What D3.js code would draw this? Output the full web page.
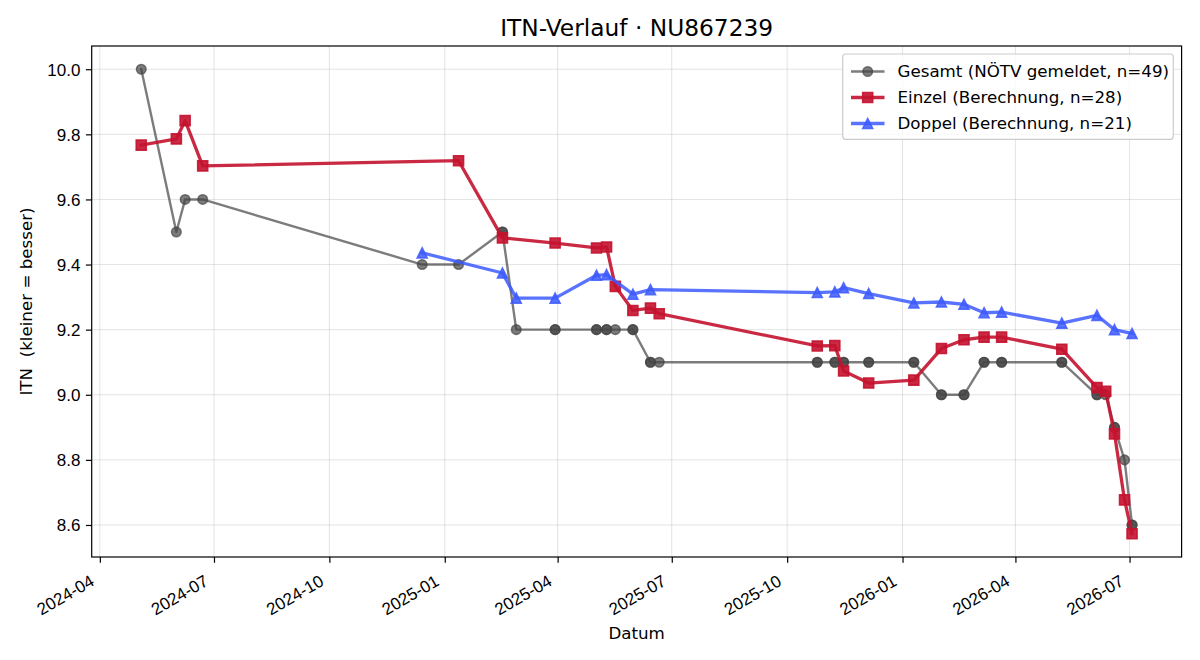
<!DOCTYPE html>
<html>
<head>
<meta charset="utf-8">
<script src="https://cdn.jsdelivr.net/npm/d3@7"></script>
<style>
  html, body { margin: 0; padding: 0; background: #fff; }
  svg { display: block; font-family: "DejaVu Sans", sans-serif; }
</style>
</head>
<body>
<svg id="chart" width="1200" height="660"></svg>
<script>
// ---- Data ----
const titleText = "ITN-Verlauf · NU867239";
const xLabelText = "Datum";
const yLabelText = "ITN  (kleiner = besser)";

const gesamtDates = [
  "2024-05-04","2024-06-01","2024-06-08","2024-06-22","2024-12-14","2025-01-12",
  "2025-02-16","2025-02-16","2025-02-27","2025-03-30","2025-03-30",
  "2025-05-02","2025-05-02","2025-05-10","2025-05-10","2025-05-17",
  "2025-05-31","2025-05-31","2025-06-14","2025-06-14","2025-06-21",
  "2025-10-25","2025-10-25","2025-11-08","2025-11-08","2025-11-15","2025-11-15",
  "2025-12-05","2025-12-05","2026-01-10","2026-01-10","2026-02-01","2026-02-01",
  "2026-02-19","2026-02-19","2026-03-07","2026-03-07","2026-03-21","2026-03-21",
  "2026-05-08","2026-05-08","2026-06-05","2026-06-05","2026-06-12",
  "2026-06-19","2026-06-19","2026-06-27","2026-07-03","2026-07-03"
];
const gesamtValues = [
  10.0, 9.5, 9.6, 9.6, 9.4, 9.4,
  9.5, 9.5, 9.2, 9.2, 9.2,
  9.2, 9.2, 9.2, 9.2, 9.2,
  9.2, 9.2, 9.1, 9.1, 9.1,
  9.1, 9.1, 9.1, 9.1, 9.1, 9.1,
  9.1, 9.1, 9.1, 9.1, 9.0, 9.0,
  9.0, 9.0, 9.1, 9.1, 9.1, 9.1,
  9.1, 9.1, 9.0, 9.0, 9.0,
  8.9, 8.9, 8.8, 8.6, 8.6
];

const einzelDates = [
  "2024-05-04","2024-06-01","2024-06-08","2024-06-22","2025-01-12","2025-02-16",
  "2025-03-30","2025-05-02","2025-05-10","2025-05-17","2025-05-31","2025-06-14",
  "2025-06-21","2025-10-25","2025-11-08","2025-11-15","2025-12-05","2026-01-10",
  "2026-02-01","2026-02-19","2026-03-07","2026-03-21","2026-05-08","2026-06-05",
  "2026-06-12","2026-06-19","2026-06-27","2026-07-03"
];
const einzelValues = [
  9.767, 9.786, 9.842, 9.703, 9.719, 9.482,
  9.466, 9.451, 9.454, 9.333, 9.259, 9.266,
  9.249, 9.150, 9.151, 9.073, 9.036, 9.045,
  9.142, 9.169, 9.177, 9.177, 9.140, 9.022,
  9.011, 8.880, 8.677, 8.573
];

const doppelDates = [
  "2024-12-14","2025-02-16","2025-02-27","2025-03-30","2025-05-02","2025-05-10",
  "2025-05-31","2025-06-14","2025-10-25","2025-11-08","2025-11-15","2025-12-05",
  "2026-01-10","2026-02-01","2026-02-19","2026-03-07","2026-03-21","2026-05-08",
  "2026-06-05","2026-06-19","2026-07-03"
];
const doppelValues = [
  9.436, 9.374, 9.297, 9.297, 9.367, 9.369,
  9.309, 9.323, 9.314, 9.316, 9.329, 9.311,
  9.282, 9.285, 9.278, 9.252, 9.254, 9.220,
  9.244, 9.200, 9.188
];

const seriesNames = [
  "Gesamt (NÖTV gemeldet, n=49)",
  "Einzel (Berechnung, n=28)",
  "Doppel (Berechnung, n=21)"
];
const yTickValues = [8.6, 8.8, 9.0, 9.2, 9.4, 9.6, 9.8, 10.0];

// ---- Layout ----
const W = 1200, H = 660;
const M = { left: 91.7, right: 1200 - 1181.6, top: 46, bottom: 660 - 557 };
const iw = W - M.left - M.right, ih = H - M.top - M.bottom;

const parse = d3.utcParse("%Y-%m-%d");
const mk = (ds, vs) => ds.map((d, i) => ({ date: parse(d), value: vs[i] }));
const gesamt = mk(gesamtDates, gesamtValues);
const einzel = mk(einzelDates, einzelValues);
const doppel = mk(doppelDates, doppelValues);
const all = gesamt.concat(einzel, doppel);

const xExt = d3.extent(all, d => d.date);
const xPad = (xExt[1] - xExt[0]) * 0.05;
const x = d3.scaleUtc()
  .domain([new Date(+xExt[0] - xPad), new Date(+xExt[1] + xPad)])
  .range([M.left, M.left + iw]);
const yExt = d3.extent(all, d => d.value);
const yPad = (yExt[1] - yExt[0]) * 0.05;
const y = d3.scaleLinear()
  .domain([yExt[0] - yPad, yExt[1] + yPad])
  .range([M.top + ih, M.top]);

const svg = d3.select("#chart");
svg.append("rect").attr("width", W).attr("height", H).attr("fill", "#fff");

const xTicks = x.ticks(d3.utcMonth.every(3)).filter(t => t >= x.domain()[0] && t <= x.domain()[1]);

// grid
const grid = svg.append("g");
grid.selectAll(".gx").data(xTicks).join("line")
  .attr("x1", d => x(d)).attr("x2", d => x(d))
  .attr("y1", M.top).attr("y2", M.top + ih)
  .attr("stroke", "#b0b0b0").attr("stroke-opacity", 0.35).attr("stroke-width", 1);
grid.selectAll(".gy").data(yTickValues).join("line")
  .attr("x1", M.left).attr("x2", M.left + iw)
  .attr("y1", d => y(d)).attr("y2", d => y(d))
  .attr("stroke", "#b0b0b0").attr("stroke-opacity", 0.35).attr("stroke-width", 1);

// axes
const xAxis = d3.axisBottom(x).tickValues(xTicks).tickFormat(d3.utcFormat("%Y-%m"))
  .tickSize(5.8).tickPadding(6);
const gx = svg.append("g").attr("transform", `translate(0,${M.top + ih})`).call(xAxis);
gx.select(".domain").remove();
gx.selectAll(".tick line").attr("stroke", "#000").attr("stroke-width", 1.2);
gx.selectAll(".tick text")
  .attr("font-size", 17).attr("fill", "#000")
  .attr("text-anchor", "end")
  .attr("y", 0).attr("dy", 0)
  .attr("transform", "translate(-5,27.5) rotate(-30)");

const yAxis = d3.axisLeft(y).tickValues(yTickValues).tickFormat(d3.format(".1f"))
  .tickSize(5.8).tickPadding(5.5);
const gy = svg.append("g").attr("transform", `translate(${M.left},0)`).call(yAxis);
gy.select(".domain").remove();
gy.selectAll(".tick line").attr("stroke", "#000").attr("stroke-width", 1.2);
gy.selectAll(".tick text").attr("font-size", 17).attr("fill", "#000").attr("dy", "0.35em");

// frame
svg.append("rect").attr("x", M.left).attr("y", M.top).attr("width", iw).attr("height", ih)
  .attr("fill", "none").attr("stroke", "#000").attr("stroke-width", 1.2);

// series
const line = d3.line().x(d => x(d.date)).y(d => y(d.value));
const plot = svg.append("g");

const styles = [
  { data: gesamt, color: "#444444", alpha: 0.7, lw: 2.4, marker: "circle", size: 9.5 },
  { data: einzel, color: "#c4122f", alpha: 0.9, lw: 3.3, marker: "square", size: 10 },
  { data: doppel, color: "#3d5afe", alpha: 0.85, lw: 3.3, marker: "triangle", size: 10 }
];

function markerPath(type, s) {
  const h = s / 2;
  if (type === "circle") {
    return `M${h},0A${h},${h} 0 1,1 ${-h},0A${h},${h} 0 1,1 ${h},0Z`;
  } else if (type === "square") {
    return `M${-h},${-h}H${h}V${h}H${-h}Z`;
  } else {
    return `M0,${-h}L${h},${h}L${-h},${h}Z`;
  }
}

styles.forEach(s => {
  const g = plot.append("g");
  g.append("path").datum(s.data).attr("d", line)
    .attr("fill", "none").attr("stroke", s.color).attr("stroke-opacity", s.alpha)
    .attr("stroke-width", s.lw).attr("stroke-linejoin", "round").attr("stroke-linecap", "square");
  g.selectAll("path.m").data(s.data).join("path").attr("class", "m")
    .attr("transform", d => `translate(${x(d.date)},${y(d.value)})`)
    .attr("d", markerPath(s.marker, s.size))
    .attr("fill", s.color).attr("fill-opacity", s.alpha)
    .attr("stroke", s.color).attr("stroke-opacity", s.alpha).attr("stroke-width", 1.6);
});

// legend
const lg = svg.append("g");
lg.append("rect").attr("x", 842.7).attr("y", 54).attr("width", 330.6).attr("height", 85.3)
  .attr("rx", 3).attr("fill", "#fff").attr("fill-opacity", 0.8)
  .attr("stroke", "#cccccc").attr("stroke-width", 1.2);
const rowY = [71.5, 97.5, 123.5];
styles.forEach((s, i) => {
  const ry = rowY[i];
  lg.append("line").attr("x1", 851).attr("x2", 884.5).attr("y1", ry).attr("y2", ry)
    .attr("stroke", s.color).attr("stroke-opacity", s.alpha).attr("stroke-width", s.lw);
  lg.append("path").attr("transform", `translate(867.7,${ry})`)
    .attr("d", markerPath(s.marker, s.size))
    .attr("fill", s.color).attr("fill-opacity", s.alpha)
    .attr("stroke", s.color).attr("stroke-opacity", s.alpha).attr("stroke-width", 1.6);
  lg.append("text").attr("x", 897.5).attr("y", ry).attr("dy", "0.35em")
    .attr("font-size", 16.7).attr("fill", "#000").text(seriesNames[i]);
});

// title & labels
svg.append("text").attr("x", M.left + iw / 2).attr("y", 36)
  .attr("text-anchor", "middle").attr("font-size", 23.3).attr("fill", "#000").text(titleText);
svg.append("text").attr("x", M.left + iw / 2).attr("y", 639)
  .attr("text-anchor", "middle").attr("font-size", 16.7).attr("fill", "#000").text(xLabelText);
svg.append("text")
  .attr("transform", `translate(32,${M.top + ih / 2}) rotate(-90)`)
  .attr("text-anchor", "middle").attr("font-size", 16.7).attr("fill", "#000")
  .style("white-space", "pre").text(yLabelText);
</script>
</body>
</html>
